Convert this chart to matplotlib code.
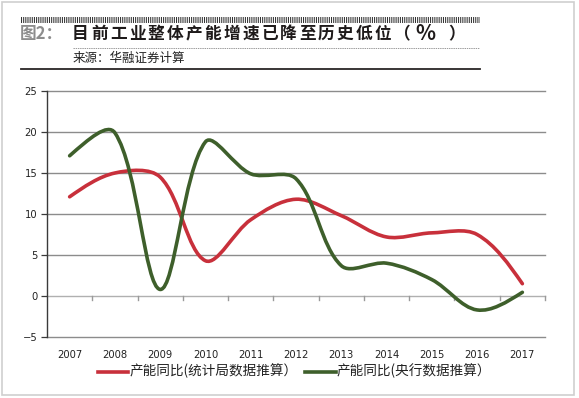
"""Figura: crecimiento de capacidad industrial (reproducción del gráfico 2)."""

import matplotlib

matplotlib.use("Agg", force=True)
import matplotlib.pyplot as plt
import numpy as np
from matplotlib.lines import Line2D
from matplotlib.patches import PathPatch, Rectangle
from matplotlib.path import Path

plt.rcParams["lines.scale_dashes"] = False

YEARS = ["2007", "2008", "2009", "2010", "2011", "2012",
         "2013", "2014", "2015", "2016", "2017"]
STATS_BUREAU = [12.1, 15.0, 14.5, 4.3, 9.3, 11.8, 9.8, 7.2, 7.7, 7.5, 1.5]
CENTRAL_BANK = [17.1, 19.9, 0.8, 18.8, 14.9, 14.3, 3.7, 4.0, 2.0, -1.7, 0.45]
Y_TICKS = [-5, 0, 5, 10, 15, 20, 25]

SERIES_LABELS = ("产能同比(统计局数据推算）", "产能同比(央行数据推算）")
TITLE_PREFIX = "图2："
TITLE_CHARS = "目前工业整体产能增速已降至历史低位"
SOURCE = "来源：华融证券计算"

RED = "#c8303b"
GREEN = "#3e5f2b"
CJK = ["Noto Sans CJK SC", "DejaVu Sans"]

W, H = 579, 398


def fx(px: float) -> float:
    return px / W


def fy(py: float) -> float:
    return (H - py) / H


def smooth_path(ax, xs, ys) -> Path:
    """Curva suavizada tipo Excel: Bezier con tangentes ponderadas por longitud
    de segmento, calculadas en coordenadas de pantalla."""
    pts = ax.transData.transform(np.column_stack([xs, ys]))
    n = len(pts)
    c_in = [None] * n
    c_out = [None] * n
    k = 1.0 / 3.0
    for i in range(1, n - 1):
        tan = pts[i + 1] - pts[i - 1]
        d_prev = np.hypot(*(pts[i] - pts[i - 1]))
        d_next = np.hypot(*(pts[i + 1] - pts[i]))
        s = d_prev + d_next
        c_out[i] = pts[i] + tan * k * d_next / s
        c_in[i] = pts[i] - tan * k * d_prev / s
    c_out[0] = pts[0] + (c_in[1] - pts[0]) * 0.5
    c_in[n - 1] = pts[n - 1] + (c_out[n - 2] - pts[n - 1]) * 0.5
    verts = [pts[0]]
    codes = [Path.MOVETO]
    for i in range(n - 1):
        verts += [c_out[i], c_in[i + 1], pts[i + 1]]
        codes += [Path.CURVE4] * 3
    data_verts = ax.transData.inverted().transform(np.array(verts))
    return Path(data_verts, codes)


fig = plt.figure(figsize=(W / 100, H / 100), dpi=100)
fig.patch.set_facecolor("white")

# marco exterior
fig.patches.append(Rectangle((fx(2), fy(395)), fx(572), 393 / H,
                             transform=fig.transFigure, fill=False,
                             edgecolor="#cfcfcf", linewidth=1.2))

# cabecera
fig.add_artist(Line2D([fx(21), fx(480)], [fy(20), fy(20)], color="#333333",
                      linewidth=4.3, dashes=(0.75, 0.8)))
fig.text(fx(20), fy(34), TITLE_PREFIX, family=CJK, weight="heavy",
         fontsize=12, color="#8d8d8d", ha="left", va="center")
pitch = 18.9
for i, ch in enumerate(TITLE_CHARS):
    fig.text(fx(72 + i * pitch), fy(34), ch, family=CJK, weight="heavy",
             fontsize=12, color="#1e1a1a", ha="left", va="center")
fig.text(fx(402), fy(34), "（", family=CJK, weight="heavy", fontsize=12,
         color="#1e1a1a", ha="center", va="center")
fig.text(fx(425), fy(34), "%", family=CJK, weight="heavy", fontsize=15,
         color="#1e1a1a", ha="center", va="center")
fig.text(fx(457), fy(34), "）", family=CJK, weight="heavy", fontsize=12,
         color="#1e1a1a", ha="center", va="center")
fig.add_artist(Line2D([fx(73), fx(479)], [fy(47.5), fy(47.5)], color="#9a9a9a",
                      linewidth=0.7, dashes=(1.0, 0.6)))
fig.text(fx(73), fy(58.5), SOURCE, family=CJK, fontsize=9, color="#222222",
         ha="left", va="center")
fig.add_artist(Line2D([fx(21), fx(480)], [fy(68.5), fy(68.5)], color="#2a2525",
                      linewidth=1.3))

# área de trazado
ax = fig.add_axes([fx(47), fy(337), (545 - 47) / W, (337 - 91) / H])
x = list(range(len(YEARS)))
ax.set_xlim(-0.5, len(YEARS) - 0.5)
ax.set_ylim(-5, 25)

for yv in Y_TICKS:
    ax.axhline(yv, color="#8c8c8c" if yv != 0 else "#b0b0b0",
               linewidth=1.0, zorder=1, clip_on=False)
for xb in [i + 0.5 for i in range(len(YEARS))]:
    ax.plot([xb, xb], [0, -0.5], color="#9a9a9a", linewidth=1.0, zorder=1,
            clip_on=False)

for ys, color in ((STATS_BUREAU, RED), (CENTRAL_BANK, GREEN)):
    ax.add_patch(PathPatch(smooth_path(ax, x, ys), facecolor="none",
                           edgecolor=color, linewidth=2.6, capstyle="round",
                           joinstyle="round", zorder=3))

for side in ("top", "right", "bottom"):
    ax.spines[side].set_visible(False)
ax.spines["left"].set_color("#3a3a3a")
ax.spines["left"].set_linewidth(1.0)

ax.set_yticks(Y_TICKS)
ax.set_yticklabels([f"{v}" if v >= 0 else f"\u2212{abs(v)}" for v in Y_TICKS])
ax.tick_params(axis="y", length=4, width=0.9, color="#3a3a3a", pad=3,
               labelsize=7.2, labelcolor="#222222")
ax.set_xticks(x)
ax.set_xticklabels(YEARS)
ax.tick_params(axis="x", length=0, pad=9, labelsize=7.2, labelcolor="#222222")

# leyenda
for (x0, x1, tx), color, label in zip(((98, 128, 130), (305, 336, 337)),
                                      (RED, GREEN), SERIES_LABELS):
    fig.add_artist(Line2D([fx(x0), fx(x1)], [fy(372), fy(372)], color=color,
                          linewidth=2.6))
    fig.text(fx(tx), fy(371), label, family=CJK, fontsize=9.8,
             color="#222222", ha="left", va="center")

fig.savefig("out.png", dpi=100)
